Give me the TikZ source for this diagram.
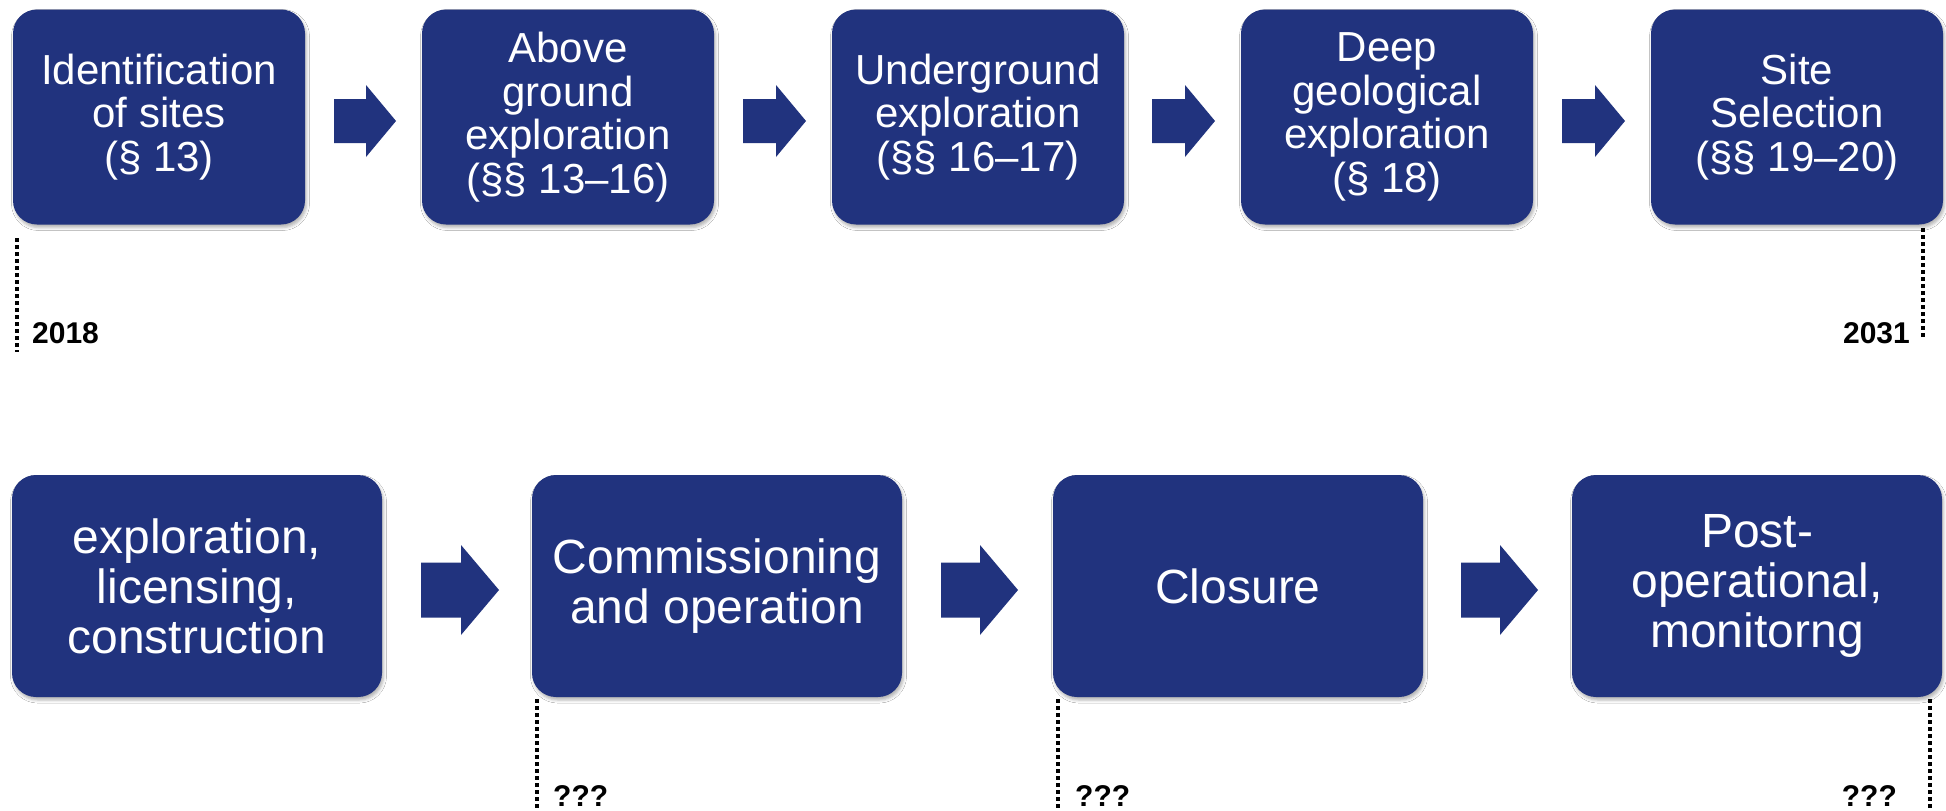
\documentclass[tikz,border=0pt]{standalone}
\usepackage{fontspec}
\setmainfont{Liberation Sans}
\usetikzlibrary{shadows.blur}
\definecolor{boxblue}{RGB}{33,51,126}
\newcommand\blockarrow[6]{% x1, x2, y centre, shaft half height, head half height, head length
  \fill[boxblue] (#1,{#3-#4}) -- ({#2-#6},{#3-#4}) -- ({#2-#6},{#3-#5}) -- (#2,#3)
    -- ({#2-#6},{#3+#5}) -- ({#2-#6},{#3+#4}) -- (#1,{#3+#4}) -- cycle;}
\begin{document}
\begin{tikzpicture}[x=1pt,y=-1pt,
  topbox/.style={fill=boxblue, rounded corners=24pt, minimum width=292pt,
    minimum height=215pt, inner sep=0pt, align=center, text=white,
    font=\fontsize{42}{43.5}\selectfont,
    blur shadow={shadow xshift=1.5pt, shadow yshift=-3pt, shadow blur radius=3pt, shadow opacity=30}},
  botbox/.style={topbox, minimum width=370pt, minimum height=222pt,
    font=\fontsize{48}{50}\selectfont},
  yearlbl/.style={font=\fontsize{30}{30}\selectfont\bfseries, inner sep=0pt},
  tick/.style={line width=4pt, dash pattern=on 3.5pt off 3.5pt, black}]
\useasboundingbox[fill=white] (0,0) rectangle (1946,811);

% top row
\node[topbox] (b1) at (159,117) {Identification\\of sites\\(§ 13)};
\node[topbox] (b2) at (568,117) {Above\\ground\\exploration\\(§§ 13–16)};
\node[topbox] (b3) at (978,117) {Underground\\exploration\\(§§ 16–17)};
\node[topbox] (b4) at (1387,117) {Deep\\geological\\exploration\\(§ 18)};
\node[topbox] (b5) at (1797,117) {Site\\Selection\\(§§ 19–20)};

\blockarrow{334}{396}{121}{22}{36}{30}
\blockarrow{743}{806}{121}{22}{36}{30}
\blockarrow{1152}{1215}{121}{22}{36}{30}
\blockarrow{1562}{1625}{121}{22}{36}{30}

% bottom row
\node[botbox] (c1) at (197,586) {exploration,\\licensing,\\construction};
\node[botbox] (c2) at (717,586) {Commissioning\\and operation};
\node[botbox] (c3) at (1238,586) {Closure};
\node[botbox] (c4) at (1757,586) {Post-\\operational,\\monitorng};

\blockarrow{421}{499}{590}{27.5}{45}{38}
\blockarrow{941}{1018}{590}{27.5}{45}{38}
\blockarrow{1461}{1538}{590}{27.5}{45}{38}

% timeline ticks
\coordinate (t1a) at (17,238);   \coordinate (t1b) at (17,352);
\coordinate (t2a) at (1923,228); \coordinate (t2b) at (1923,340);
\coordinate (t3a) at (537,699);  \coordinate (t3b) at (537,811);
\coordinate (t4a) at (1058,699); \coordinate (t4b) at (1058,811);
\coordinate (t5a) at (1930,699); \coordinate (t5b) at (1930,811);
\draw[tick] (t1a) -- (t1b);
\draw[tick] (t2a) -- (t2b);
\draw[tick] (t3a) -- (t3b);
\draw[tick] (t4a) -- (t4b);
\draw[tick] (t5a) -- (t5b);

\node[yearlbl, anchor=base west] (y1) at (32,343) {2018};
\node[yearlbl, anchor=base east] (y2) at (1910,343) {2031};
\node[yearlbl, anchor=base west] (q1) at (553,806) {???};
\node[yearlbl, anchor=base west] (q2) at (1075,806) {???};
\node[yearlbl, anchor=base east] (q3) at (1897,806) {???};
\end{tikzpicture}
\end{document}
